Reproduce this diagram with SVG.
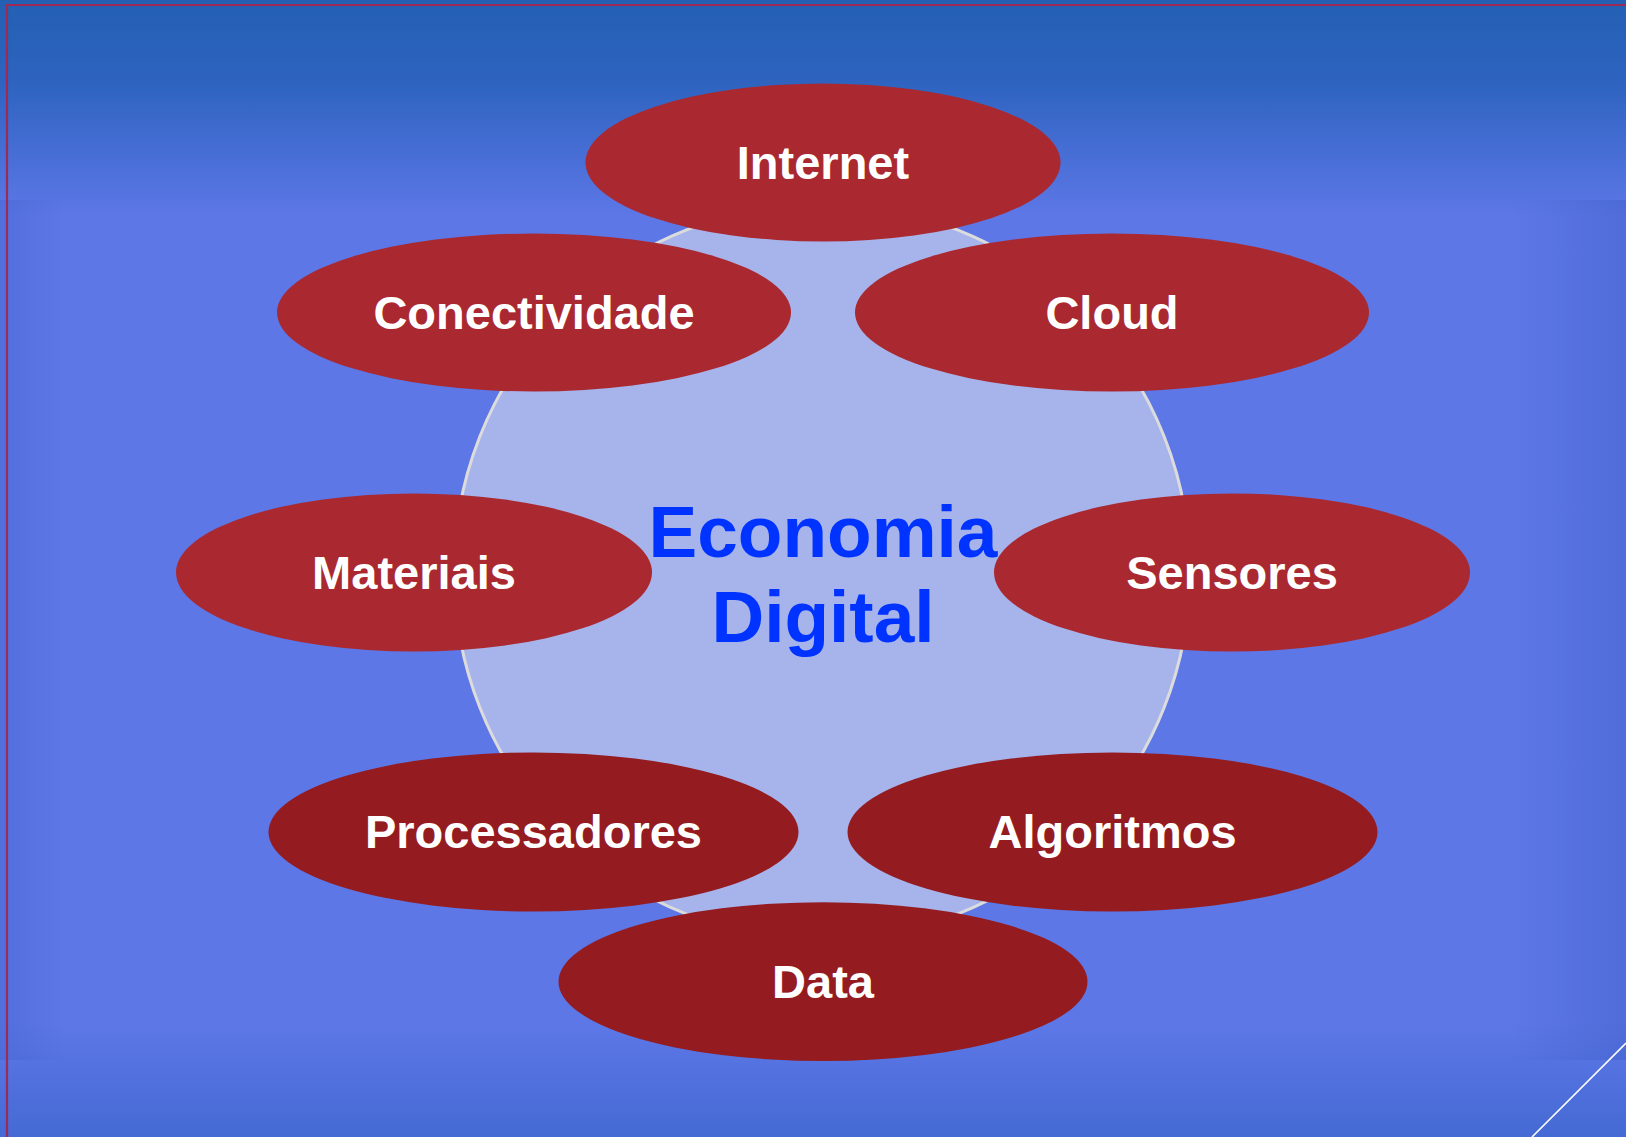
<svg xmlns="http://www.w3.org/2000/svg" width="1626" height="1137" viewBox="0 0 1626 1137">
  <defs>
    <linearGradient id="bgV" x1="0" y1="0" x2="0" y2="1">
      <stop offset="0" stop-color="#2360b3"/>
      <stop offset="0.07" stop-color="#2d63bf"/>
      <stop offset="0.19" stop-color="#5d77e7"/>
      <stop offset="0.9" stop-color="#5d77e7"/>
      <stop offset="1" stop-color="#456ad4"/>
    </linearGradient>
    <linearGradient id="bgH" x1="0" y1="0" x2="1" y2="0">
      <stop offset="0" stop-color="#3f5fc8" stop-opacity="0.35"/>
      <stop offset="0.04" stop-color="#3f5fc8" stop-opacity="0"/>
      <stop offset="0.93" stop-color="#3f5fc8" stop-opacity="0"/>
      <stop offset="1" stop-color="#3f5fc8" stop-opacity="0.45"/>
    </linearGradient>
  </defs>
  <style>
    .top { fill: #aa2930; }
    .bot { fill: #941b1f; }
    .lbl { font-family: "Liberation Sans", Arial, sans-serif; font-weight: bold; font-size: 47px; fill: #ffffff; text-anchor: middle; }
    .ctr { font-family: "Liberation Sans", Arial, sans-serif; font-weight: bold; font-size: 73px; fill: #0033ff; text-anchor: middle; }
  </style>

  <rect x="0" y="0" width="1626" height="1137" fill="url(#bgV)"/>
  <rect x="0" y="200" width="1626" height="860" fill="url(#bgH)"/>
  <polyline points="7,1137 7,5 1626,5" fill="none" stroke="#9b2a55" stroke-width="2.2"/>
  <line x1="1532" y1="1137" x2="1626" y2="1043" stroke="#ffffff" stroke-width="1.6"/>

  <g id="connectors"/>

  <g id="center">
    <circle cx="822" cy="572" r="368" fill="#a7b4ec" stroke="#dcdcdc" stroke-width="3"/>
  </g>

  <g id="internet">
    <ellipse class="top" cx="823" cy="162.5" rx="237.5" ry="79"/>
    <text class="lbl" x="823" y="178.5">Internet</text>
  </g>
  <g id="conectividade">
    <ellipse class="top" cx="534" cy="312.5" rx="257" ry="79"/>
    <text class="lbl" x="534" y="328.5">Conectividade</text>
  </g>
  <g id="cloud">
    <ellipse class="top" cx="1112" cy="312.5" rx="257" ry="79"/>
    <text class="lbl" x="1112" y="328.5">Cloud</text>
  </g>
  <g id="materiais">
    <ellipse class="top" cx="414" cy="572.5" rx="238" ry="79"/>
    <text class="lbl" x="414" y="588.5">Materiais</text>
  </g>
  <g id="sensores">
    <ellipse class="top" cx="1232" cy="572.5" rx="238" ry="79"/>
    <text class="lbl" x="1232" y="588.5">Sensores</text>
  </g>
  <g id="processadores">
    <ellipse class="bot" cx="533.5" cy="832" rx="265" ry="79.5"/>
    <text class="lbl" x="533.5" y="848">Processadores</text>
  </g>
  <g id="algoritmos">
    <ellipse class="bot" cx="1112.5" cy="832" rx="265" ry="79.5"/>
    <text class="lbl" x="1112.5" y="848">Algoritmos</text>
  </g>
  <g id="data">
    <ellipse class="bot" cx="823" cy="981.7" rx="264.5" ry="79.4"/>
    <text class="lbl" x="823" y="997.5">Data</text>
  </g>

  <g id="center-label">
    <text class="ctr" x="823" y="556.7">Economia</text>
    <text class="ctr" x="823" y="641.7">Digital</text>
  </g>
</svg>
